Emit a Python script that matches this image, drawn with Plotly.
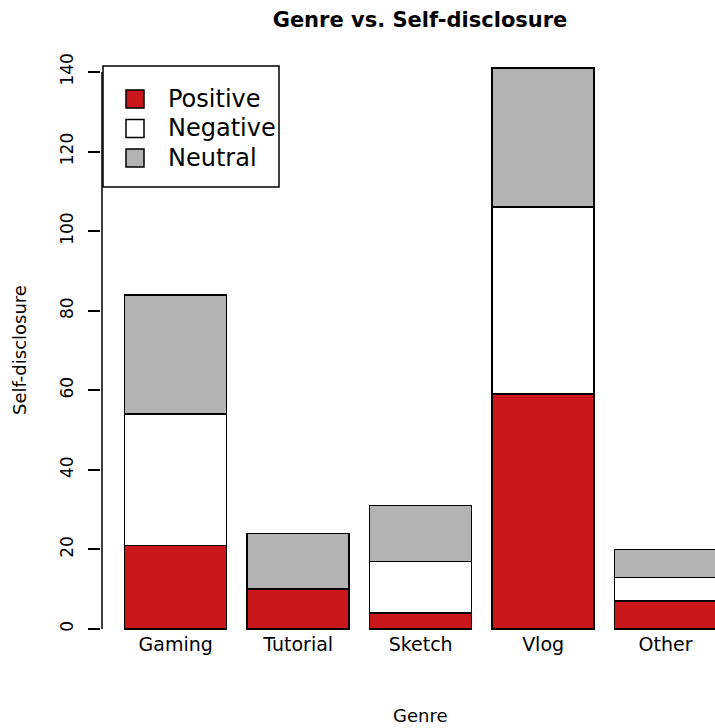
import plotly.graph_objects as go

categories = ["Gaming", "Tutorial", "Sketch", "Vlog", "Other"]
positive = [21, 10, 4, 59, 7]
negative = [33, 0, 13, 47, 6]
neutral = [30, 14, 14, 35, 7]
series_names = ["Positive", "Negative", "Neutral"]
series_colors = ["#C9171C", "#FFFFFF", "#B3B3B3"]
y_ticks = [0, 20, 40, 60, 80, 100, 120, 140]

# R barplot positions: width 1, space 0.2
bar_x = [0.7 + 1.2 * i for i in range(len(categories))]

W, H = 715, 728
K = 3.979          # px per unit
Y0PIX = 629        # pixel of y=0
YMIN = -0.4
L, R, T = 101, 0, 45
B = int(round(H - (Y0PIX - YMIN * K)))
PW, PH = W - L - R, H - T - B

def px(x):
    return (x - L) / PW

def py(y):
    return (H - B - y) / PH

FONT = "DejaVu Sans"

fig = go.Figure()
for name, vals, col in zip(series_names, [positive, negative, neutral], series_colors):
    fig.add_trace(go.Bar(
        x=bar_x, y=vals, name=name, width=1.0,
        marker=dict(color=col, line=dict(color="black", width=1.5)),
        showlegend=False,
    ))

fig.update_layout(
    width=W, height=H,
    margin=dict(l=L, r=R, t=T, b=B),
    barmode="stack",
    plot_bgcolor="white", paper_bgcolor="white",
    font=dict(family=FONT, size=18, color="black"),
    title=dict(text="Genre vs. Self-disclosure", x=px(420), xref="paper",
               xanchor="center", y=1 - 20 / H, yref="container", yanchor="middle",
               font=dict(family=FONT, size=21, weight="bold", color="black")),
    xaxis=dict(range=[-0.032, 0.2 + (W - 125) / 102.0], tickvals=bar_x, ticktext=categories,
               showline=False, showgrid=False, zeroline=False, ticks="",
               tickfont=dict(size=19), fixedrange=True),
    yaxis=dict(range=[(Y0PIX - (H - B)) / K, (Y0PIX - T) / K], tickvals=y_ticks, ticks="outside",
               ticklen=12, tickwidth=1.5, tickcolor="black", tickangle=-90,
               ticklabelstandoff=8,
               showline=False, showgrid=False, zeroline=False,
               tickfont=dict(size=17), fixedrange=True),
)

# y axis line from 0 to 140 (R style)
fig.add_shape(type="line", xref="paper", yref="y", x0=px(102), x1=px(102),
              y0=y_ticks[0], y1=y_ticks[-1], line=dict(color="black", width=1.5))

# axis titles
fig.add_annotation(text="Self-disclosure", xref="paper", yref="paper", x=px(19), y=py(350),
                   showarrow=False, textangle=-90, font=dict(size=18),
                   xanchor="center", yanchor="middle")
fig.add_annotation(text="Genre", xref="paper", yref="paper", x=px(420), y=py(715),
                   showarrow=False, font=dict(size=18), xanchor="center", yanchor="middle")

# legend box (R style)
fig.add_shape(type="rect", xref="paper", yref="paper", x0=px(103), x1=px(279),
              y0=py(187), y1=py(66), line=dict(color="black", width=1.5),
              fillcolor="white", layer="above")
for i, (name, col) in enumerate(zip(series_names, series_colors)):
    cy = 99 + i * 29.5
    fig.add_shape(type="rect", xref="paper", yref="paper", x0=px(126), x1=px(144),
                  y0=py(cy + 9), y1=py(cy - 9), fillcolor=col,
                  line=dict(color="black", width=1.5), layer="above")
    fig.add_annotation(text=name, xref="paper", yref="paper", x=px(166), y=py(cy),
                       showarrow=False, xanchor="left", yanchor="middle",
                       font=dict(size=24))

fig.write_html("out.html", config={"displayModeBar": False},
               post_script="document.body.style.margin='0';document.body.style.padding='0';")
